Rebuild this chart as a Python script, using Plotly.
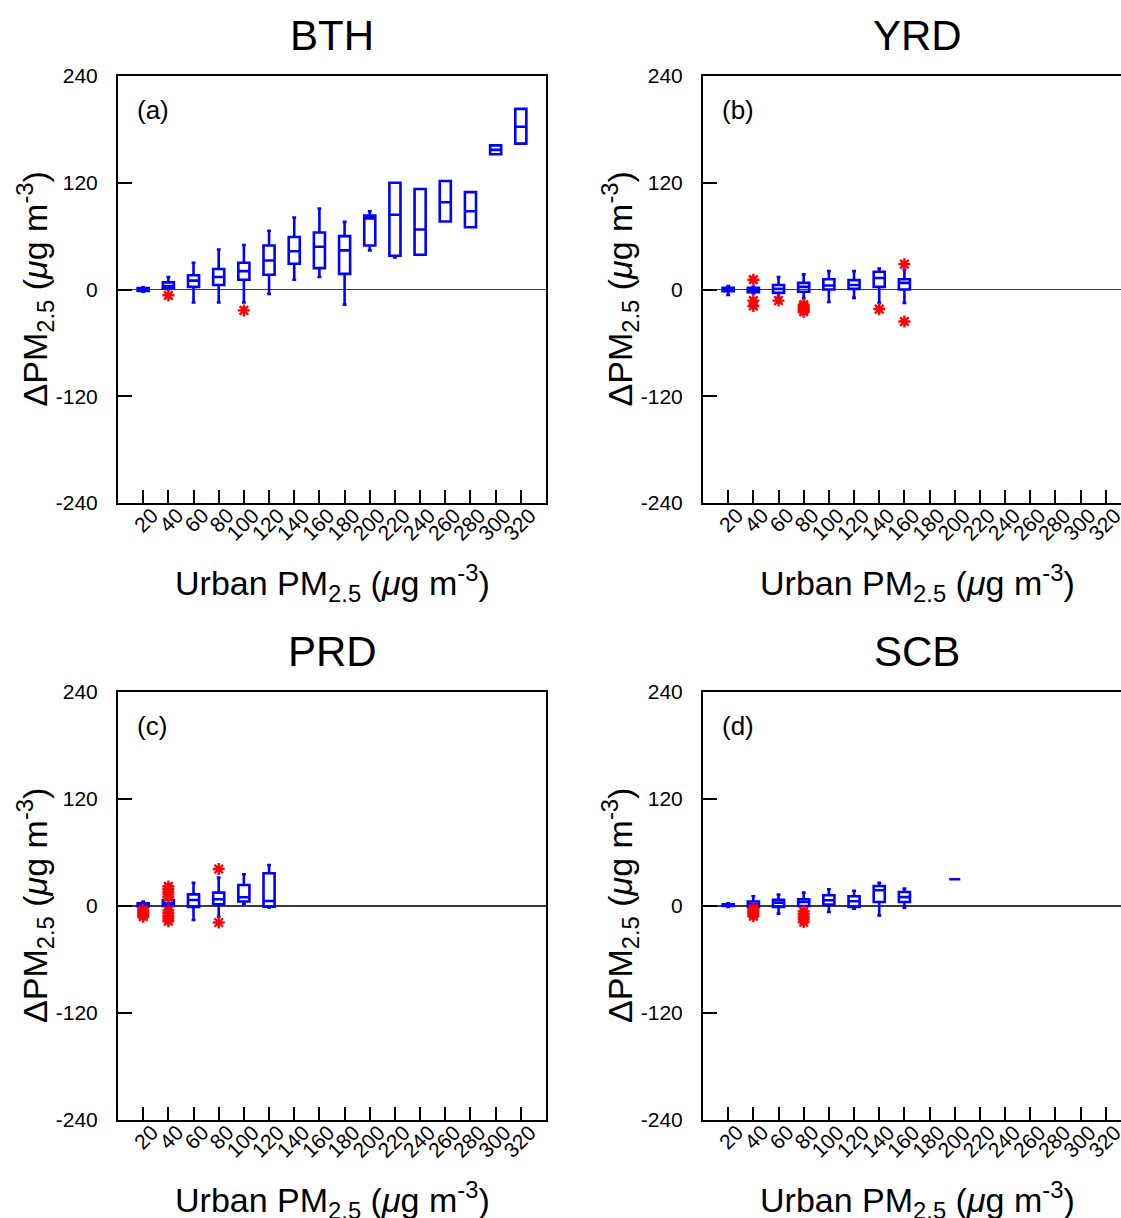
import plotly.graph_objects as go

# ---------------- data ----------------
CATEGORIES = ["20", "40", "60", "80", "100", "120", "140", "160",
              "180", "200", "220", "240", "260", "280", "300", "320"]

# (a) BTH
bth_x = CATEGORIES
bth_q1 = [-1.5, 1, 3, 5, 11, 16.5, 29, 24, 17.6, 49.5, 38, 39, 76.5, 70, 152, 164]
bth_median = [0, 4, 10, 14, 20.6, 32.6, 43, 48, 44, 80, 84, 67.5, 98, 88, 157, 183]
bth_q3 = [1.5, 8, 16, 23, 30, 49.5, 59, 64, 60, 83, 120, 113, 122, 109.5, 162, 203]
bth_low = [-2.5, 0, -14.6, -14.6, -14.6, -5, 11, 14, -17, 44, 36, 39, 76.5, 70, 152, 164]
bth_high = [2.5, 14, 30, 45, 50, 66, 81, 91, 76, 88, 120, 113, 122, 109.5, 162, 203]
bth_out_x = ["40", "100"]
bth_out_y = [-6.5, -23.5]

# (b) YRD
yrd_x = ["20", "40", "60", "80", "100", "120", "140", "160"]
yrd_q1 = [-2, -3, -3.75, -2.6, 0, 0.75, 3, 0]
yrd_median = [-1, -1, 0.75, 3, 4.5, 5, 13, 7.5]
yrd_q3 = [2, 2, 5, 7.5, 11.6, 10.5, 20, 11.6]
yrd_low = [-6, -4.5, -8, -10, -14, -9.4, -15, -15]
yrd_high = [3.75, 3, 14, 17, 20.6, 20.6, 23.6, 22.5]
yrd_out_x = ["40", "40", "40", "60", "80", "80", "80", "80", "80", "140", "160", "160"]
yrd_out_y = [11, -12.5, -18.5, -12.5, -17, -19, -21, -23, -25, -22, 28.5, -36]

# (c) PRD
prd_x = ["20", "40", "60", "80", "100", "120"]
prd_q1 = [-0.5, 0, -1, 2, 5, -0.75]
prd_median = [1, 3, 6.75, 7.5, 9.75, 5.6]
prd_q3 = [3, 6.75, 13, 15, 23.6, 36.75]
prd_low = [-2, -2, -15.75, -12, 2, -1.5]
prd_high = [5, 8, 26, 32, 35.6, 46]
prd_out_x = ["20", "20", "20", "20", "20",
             "40", "40", "40", "40", "40", "40", "40", "40", "40", "40",
             "80", "80"]
prd_out_y = [-4, -6, -8, -10, -12,
             10, 13, 16, 19, 22, -5, -8, -11, -14, -17,
             41.5, -18.5]

# (d) SCB
scb_x = ["20", "40", "60", "80", "100", "120", "140", "160", "200"]
scb_q1 = [0, -1, -1, 0, 1.5, -1, 4.5, 4.5, 30]
scb_median = [1, 2, 3.75, 4.5, 6.4, 5.25, 17.6, 10, 30]
scb_q3 = [2, 5, 7, 7.5, 12, 11, 22.5, 15.75, 30]
scb_low = [-1, -1, -8.6, 0, -6.75, -3, -10.5, -2, 30]
scb_high = [3, 11, 12.75, 15, 18.75, 17, 26, 19.5, 30]
scb_out_x = ["40", "40", "40", "40", "40", "80", "80", "80", "80", "80"]
scb_out_y = [-3, -5, -7, -9, -11.5, -6, -9, -12, -15, -18]

Y_TICKS = [-240, -120, 0, 120, 240]
Y_TICK_LABELS = ["-240", "-120", "0", "120", "240"]
TITLES = ["BTH", "YRD", "PRD", "SCB"]
LABELS = ["(a)", "(b)", "(c)", "(d)"]

# ---------------- figure ----------------
W, H = 1121, 1218
FONT = "Liberation Sans, Arial, Helvetica, sans-serif"
BLUE = "#0000ff"
RED = "#ff0000"

panels = [
    (bth_x, bth_q1, bth_median, bth_q3, bth_low, bth_high, bth_out_x, bth_out_y),
    (yrd_x, yrd_q1, yrd_median, yrd_q3, yrd_low, yrd_high, yrd_out_x, yrd_out_y),
    (prd_x, prd_q1, prd_median, prd_q3, prd_low, prd_high, prd_out_x, prd_out_y),
    (scb_x, scb_q1, scb_median, scb_q3, scb_low, scb_high, scb_out_x, scb_out_y),
]

# pixel geometry of plot areas in screen pixels (left, right, top, bottom)
LEFT_L, LEFT_R = 118, 546
RIGHT_L = 703
TOP_T, TOP_B = 76, 503
BOT_T, BOT_B = 692, 1120
STEP = (LEFT_R - LEFT_L) / 17.0

geoms = [
    (LEFT_L, LEFT_R, TOP_T, TOP_B, True),
    (RIGHT_L, W, TOP_T, TOP_B, False),
    (LEFT_L, LEFT_R, BOT_T, BOT_B, True),
    (RIGHT_L, W, BOT_T, BOT_B, False),
]


def px(v):
    return v / W


def py(v):
    return 1 - v / H


fig = go.Figure()
layout = dict(
    width=W, height=H,
    margin=dict(l=0, r=0, t=0, b=0),
    paper_bgcolor="white", plot_bgcolor="white",
    showlegend=False,
    font=dict(family=FONT, color="black"),
)
annotations = []

for i, (p, g) in enumerate(zip(panels, geoms)):
    bx, q1, med, q3, lo, hi, ox, oy = p
    l, r, t, b, full = g
    n = "" if i == 0 else str(i + 1)
    xa, ya = "x" + n, "y" + n

    fig.add_trace(go.Box(
        x=bx, q1=q1, median=med, q3=q3, lowerfence=lo, upperfence=hi,
        xaxis=xa, yaxis=ya, boxpoints=False,
        line=dict(color=BLUE, width=2.6),
        fillcolor="rgba(0,0,0,0)",
        width=0.44, whiskerwidth=0.35,
        hoverinfo="skip",
    ))
    fig.add_trace(go.Scatter(
        x=ox, y=oy, xaxis=xa, yaxis=ya, mode="markers",
        marker=dict(symbol="asterisk-open", size=10, color=RED,
                    line=dict(color=RED, width=2.4)),
        hoverinfo="skip",
    ))

    xr_max = -1 + (r - l) / STEP
    layout["xaxis" + n] = dict(
        domain=[px(l), min(px(r), 1.0)], anchor=ya,
        type="category", categoryorder="array", categoryarray=CATEGORIES,
        range=[-1, xr_max],
        showline=True, linecolor="black", linewidth=2, mirror=True,
        ticks="inside", ticklen=13, tickwidth=2, tickcolor="black",
        tickangle=-45, tickfont=dict(size=21, family=FONT),
        ticklabelshift=9, ticklabelstandoff=-10,
        showgrid=False, zeroline=False, automargin=False,
    )
    layout["yaxis" + n] = dict(
        domain=[py(b), py(t)], anchor=xa,
        range=[-240, 240], tickvals=Y_TICKS, ticktext=Y_TICK_LABELS,
        showline=True, linecolor="black", linewidth=2, mirror=full,
        ticks="inside", ticklen=14, tickwidth=2, tickcolor="black",
        tickfont=dict(size=21, family=FONT),
        ticklabelstandoff=14,
        showgrid=False, zeroline=True, zerolinecolor="#3a3a3a", zerolinewidth=1.4,
        automargin=False,
    )

    cx = l + (LEFT_R - LEFT_L) / 2.0
    # panel title
    annotations.append(dict(
        xref="paper", yref="paper", x=px(cx), y=py(t - 41),
        text=TITLES[i], showarrow=False, xanchor="center", yanchor="middle",
        font=dict(size=42, family=FONT),
    ))
    # panel label
    annotations.append(dict(
        xref="paper", yref="paper", x=px(l + 17), y=py(t + 34),
        text=LABELS[i], showarrow=False, xanchor="left", yanchor="middle",
        font=dict(size=26, family=FONT),
    ))
    # x-axis title
    annotations.append(dict(
        xref="paper", yref="paper", x=px(cx), y=py(b + 80),
        text="Urban PM<sub>2.5</sub> (<i>μ</i>g m<sup>-3</sup>)",
        showarrow=False, xanchor="center", yanchor="middle",
        font=dict(size=34, family=FONT),
    ))
    # y-axis title
    annotations.append(dict(
        xref="paper", yref="paper", x=px(l - 83), y=py((t + b) / 2.0),
        text="ΔPM<sub>2.5</sub> (<i>μ</i>g m<sup>-3</sup>)",
        showarrow=False, xanchor="center", yanchor="middle", textangle=-90,
        font=dict(size=34, family=FONT),
    ))

layout["annotations"] = annotations
fig.update_layout(**layout)
fig.write_html(
    "out.html",
    config={"displayModeBar": False, "staticPlot": True},
    post_script="document.body.style.margin='0';document.body.style.overflow='hidden';",
)
